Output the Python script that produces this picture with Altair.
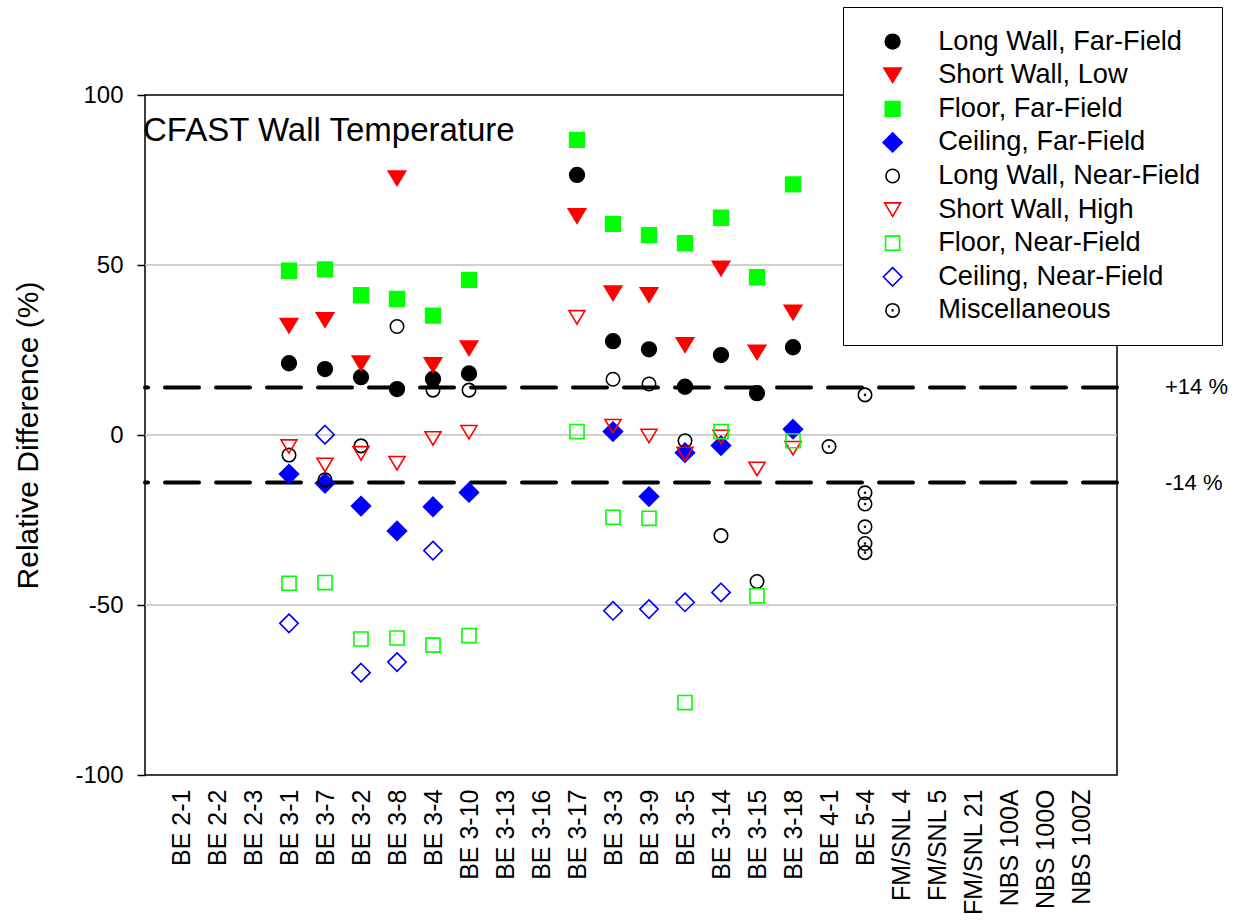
import altair as alt
import pandas as pd

FONT = "Liberation Sans"

# ---------------- data ----------------
categories = ["BE 2-1", "BE 2-2", "BE 2-3", "BE 3-1", "BE 3-7", "BE 3-2", "BE 3-8",
              "BE 3-4", "BE 3-10", "BE 3-13", "BE 3-16", "BE 3-17", "BE 3-3", "BE 3-9",
              "BE 3-5", "BE 3-14", "BE 3-15", "BE 3-18", "BE 4-1", "BE 5-4",
              "FM/SNL 4", "FM/SNL 5", "FM/SNL 21", "NBS 100A", "NBS 100O", "NBS 100Z"]

measured = ["BE 3-1", "BE 3-7", "BE 3-2", "BE 3-8", "BE 3-4", "BE 3-10", "BE 3-17",
            "BE 3-3", "BE 3-9", "BE 3-5", "BE 3-14", "BE 3-15", "BE 3-18"]

long_wall_far = [21.1, 19.4, 17.0, 13.5, 16.5, 18.1, 76.5, 27.6, 25.2, 14.2, 23.5, 12.3, 25.8]
short_wall_low = [32.1, 33.8, 21.1, 75.5, 20.6, 25.5, 64.4, 41.7, 41.2, 26.5, 49.0, 24.3, 36.0]
floor_far = [48.3, 48.7, 41.1, 40.0, 35.1, 45.6, 86.8, 62.1, 58.8, 56.4, 63.9, 46.4, 73.7]
ceiling_far = [-11.5, -14.2, -20.9, -28.2, -21.1, -16.9, None, 1.0, -18.1, -5.2, -3.1, None, 1.7]
long_wall_near = [-5.9, -13.2, -3.2, 31.9, 13.2, 13.2, None, 16.4, 15.0, -1.7, -29.6, -43.1, None]
short_wall_high = [-3.4, -8.8, -5.4, -8.3, -1.0, 0.8, 34.6, 2.6, -0.3, -5.6, -0.6, -10.0, -3.9]
floor_near = [-43.6, -43.4, -60.0, -59.7, -61.8, -59.0, 1.0, -24.2, -24.5, -78.7, 1.0, -47.3, -1.7]
ceiling_near = [-55.4, 0.1, -69.9, -66.8, -34.0, None, None, -51.7, -51.2, -49.2, -46.3, None, None]

misc_cats = ["BE 4-1", "BE 5-4", "BE 5-4", "BE 5-4", "BE 5-4", "BE 5-4", "BE 5-4"]
misc_vals = [-3.4, 11.8, -17.0, -20.3, -27.0, -31.9, -34.6]

series_names = ["Long Wall, Far-Field", "Short Wall, Low", "Floor, Far-Field",
                "Ceiling, Far-Field", "Long Wall, Near-Field", "Short Wall, High",
                "Floor, Near-Field", "Ceiling, Near-Field", "Miscellaneous"]
series_values = [long_wall_far, short_wall_low, floor_far, ceiling_far, long_wall_near,
                 short_wall_high, floor_near, ceiling_near]

grid_values = [-50, 0, 50]
limit_values = [14, -14]
limit_labels = ["+14 %", "-14 %"]
y_ticks = [-100, -50, 0, 50, 100]

# ---------------- styles ----------------
def circ(r, dot=False):
    p = f"M{r},0A{r},{r} 0 1,1 -{r},0A{r},{r} 0 1,1 {r},0Z"
    if dot:
        d = 0.06
        p += f"M{d},0A{d},{d} 0 1,1 -{d},0A{d},{d} 0 1,1 {d},0Z"
    return p

def sq(h):
    return f"M-{h},-{h}L{h},-{h}L{h},{h}L-{h},{h}Z"

def tri(w, h):
    return f"M-{w},-{h}L{w},-{h}L0,{h}Z"

def dia(h):
    return f"M0,-{h}L{h},0L0,{h}L-{h},0Z"

shapes = [circ(0.92), tri(1.09, 0.9), sq(0.92), dia(1.19),
          circ(0.84), tri(1.0, 0.84), sq(0.88), dia(1.15), circ(0.84, True)]
strokes = ["#000000", "#ff0000", "#00ff00", "#0000ff",
           "#000000", "#ff0000", "#00ff00", "#0000ff", "#000000"]
fills = ["#000000", "#ff0000", "#00ff00", "#0000ff",
         "transparent", "transparent", "transparent", "transparent", "transparent"]

# ---------------- table ----------------
rows = []
for name, vals in zip(series_names, series_values):
    for c, v in zip(measured, vals):
        if v is not None:
            rows.append({"cat": c, "value": v, "series": name})
for c, v in zip(misc_cats, misc_vals):
    rows.append({"cat": c, "value": v, "series": "Miscellaneous"})
df = pd.DataFrame(rows)

x_enc = alt.X("cat:N", sort=categories,
              scale=alt.Scale(type="point", padding=1, domain=categories),
              axis=alt.Axis(title=None, labelAngle=-90, labelFontSize=25, labelFont=FONT,
                            labelColor="black", ticks=False, tickSize=0, labelPadding=14,
                            domain=False, grid=False, labelOverlap=False))
y_scale = alt.Scale(domain=[-100, 100], nice=False)

points = alt.Chart(df).mark_point(opacity=1, strokeWidth=1.6, size=256).encode(
    x=x_enc,
    y=alt.Y("value:Q", scale=y_scale,
            axis=alt.Axis(values=y_ticks, title="Relative Difference (%)", grid=False,
                          domain=False, tickSize=8, tickColor="black", tickWidth=1.5,
                          labelExpr="'' + datum.value",
                          labelFontSize=24, labelFont=FONT, labelColor="black",
                          labelPadding=14, titleFontSize=30, titleFont=FONT,
                          titleFontWeight="normal", titleColor="black",
                          titleX=-117, titleY=340, titleAlign="center",
                          titleBaseline="middle", titleAngle=-90)),
    shape=alt.Shape("series:N", scale=alt.Scale(domain=series_names, range=shapes),
                    legend=alt.Legend(title=None, orient="none", legendX=698, legendY=-88,
                                      fillColor="white", strokeColor="black", padding=21,
                                      labelFontSize=27.2, labelFont=FONT, labelColor="black",
                                      symbolSize=256, symbolStrokeWidth=1.6,
                                      symbolOffset=15, labelOffset=32, rowPadding=4.6,
                                      labelLimit=500, clipHeight=27.2)),
    stroke=alt.Stroke("series:N", scale=alt.Scale(domain=series_names, range=strokes)),
    fill=alt.Fill("series:N", scale=alt.Scale(domain=series_names, range=fills)),
)

grid_df = pd.DataFrame({"g": grid_values})
grid = alt.Chart(grid_df).mark_rule(color="#c0c0c0", strokeWidth=1.5).encode(
    y=alt.Y("g:Q", scale=y_scale))

lim_df = pd.DataFrame({"v": limit_values, "label": limit_labels})
limits = alt.Chart(lim_df).mark_rule(color="black", strokeWidth=4, strokeDash=[34, 17],
                                      strokeCap="round").encode(
    y=alt.Y("v:Q", scale=y_scale))
limit_text = alt.Chart(lim_df).mark_text(align="left", baseline="middle", fontSize=22,
                                         font=FONT, color="black").encode(
    y=alt.Y("v:Q", scale=y_scale), x=alt.value(1020), text="label:N")

title_text = alt.Chart(pd.DataFrame({"t": ["CFAST Wall Temperature"]})).mark_text(
    align="left", baseline="alphabetic", fontSize=33, font=FONT, color="black").encode(
    x=alt.value(-2), y=alt.value(46), text="t:N")

chart = alt.layer(grid, limits, points, limit_text, title_text).properties(
    width=972, height=680,
    autosize=alt.AutoSizeParams(type="none"),
    padding={"left": 145, "top": 95, "right": 133, "bottom": 146},
    background="white",
).configure_view(stroke="black", strokeWidth=1.5)

chart.save("out.html", embed_options={"renderer": "svg", "actions": False})
